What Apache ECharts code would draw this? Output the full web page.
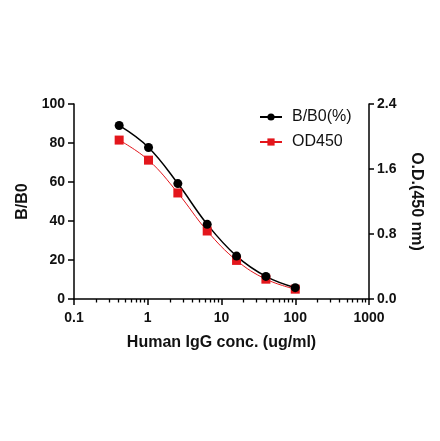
<!DOCTYPE html>
<html>
<head>
<meta charset="utf-8">
<script src="https://cdn.jsdelivr.net/npm/echarts@6/dist/echarts.min.js"></script>
<style>
html,body{margin:0;padding:0;background:#fff;}
#chart{width:440px;height:441px;}
</style>
</head>
<body>
<div id="chart"></div>
<script>
const concentrations = [0.4096, 1.024, 2.56, 6.4, 16, 40, 100];
const bb0Values = [89.0, 77.7, 59.2, 38.3, 22.0, 11.6, 5.8];
const od450Values = [1.956, 1.709, 1.305, 0.837, 0.475, 0.244, 0.121];
const xMajorTicks = [0.1, 1, 10, 100, 1000];
const xMinorTicks = [];
[0.1, 1, 10, 100].forEach(function (d) { for (let k = 2; k <= 9; k++) xMinorTicks.push(+(d * k).toPrecision(3)); });
const leftTicks = [0, 20, 40, 60, 80, 100];
const rightTicks = [0, 0.8, 1.6, 2.4];

const FONT = 'Liberation Sans, Arial, sans-serif';
const chart = echarts.init(document.getElementById('chart'), null, {renderer: 'canvas'});
const axisLineStyle = {color: '#000', width: 1.5};
const labelStyle = {color: '#111', fontFamily: FONT, fontWeight: 'bold', fontSize: 14};
const nameStyle = {color: '#111', fontFamily: FONT, fontWeight: 'bold', fontSize: 16};

chart.setOption({
  animation: false,
  backgroundColor: '#fff',
  grid: {left: 74, right: 71, top: 104, bottom: 142, containLabel: false},
  legend: {
    orient: 'vertical', left: 259, top: 109, padding: 0, itemWidth: 22, itemHeight: 9, itemGap: 9,
    textStyle: {fontFamily: FONT, fontSize: 16, color: '#111', lineHeight: 16, padding: [0, 0, 0, 5]},
    data: ['B/B0(%)', 'OD450']
  },
  xAxis: [{
    type: 'log', logBase: 10, min: 0.1, max: 1000,
    name: 'Human IgG conc. (ug/ml)', nameLocation: 'middle', nameGap: 36, nameTextStyle: nameStyle,
    axisLine: {show: true, lineStyle: axisLineStyle},
    axisTick: {show: true, length: 6, lineStyle: {color: '#000', width: 1.5}, customValues: xMajorTicks},
    axisLabel: {show: true, margin: 12, customValues: xMajorTicks, formatter: function (v) { return String(+v.toPrecision(3)); }, ...labelStyle},
    splitLine: {show: false}
  }, {
    type: 'log', logBase: 10, min: 0.1, max: 1000, position: 'bottom',
    axisLine: {show: false},
    axisTick: {show: true, length: 3.5, lineStyle: {color: '#000', width: 1.3}, customValues: xMinorTicks},
    axisLabel: {show: false},
    splitLine: {show: false}
  }],
  yAxis: [{
    type: 'value', min: 0, max: 100, interval: 20, position: 'left',
    name: 'B/B0', nameLocation: 'middle', nameGap: 42, nameTextStyle: nameStyle,
    axisLine: {show: true, lineStyle: axisLineStyle},
    axisTick: {show: true, length: 6, lineStyle: {color: '#000', width: 1.5}},
    axisLabel: {margin: 9, ...labelStyle},
    splitLine: {show: false}
  }, {
    type: 'value', min: 0, max: 2.4, interval: 0.8, position: 'right',
    name: 'O.D.(450 nm)', nameLocation: 'middle', nameGap: 39, nameRotate: -90, nameTextStyle: nameStyle,
    axisLine: {show: true, lineStyle: axisLineStyle},
    axisTick: {show: true, length: 5, lineStyle: {color: '#000', width: 1.5}},
    axisLabel: {margin: 8, formatter: function (v) { return v.toFixed(1); }, ...labelStyle},
    splitLine: {show: false}
  }],
  series: [{
    name: 'OD450', type: 'line', xAxisIndex: 0, yAxisIndex: 1,
    data: concentrations.map(function (c, i) { return [c, od450Values[i]]; }),
    smooth: 0.4, symbol: 'rect', symbolSize: 9,
    itemStyle: {color: '#e3161c'}, lineStyle: {color: '#e3161c', width: 1}
  }, {
    name: 'B/B0(%)', type: 'line', xAxisIndex: 0, yAxisIndex: 0,
    data: concentrations.map(function (c, i) { return [c, bb0Values[i]]; }),
    smooth: 0.4, symbol: 'circle', symbolSize: 9,
    itemStyle: {color: '#000'}, lineStyle: {color: '#000', width: 1.5}
  }]
});
</script>
</body>
</html>
